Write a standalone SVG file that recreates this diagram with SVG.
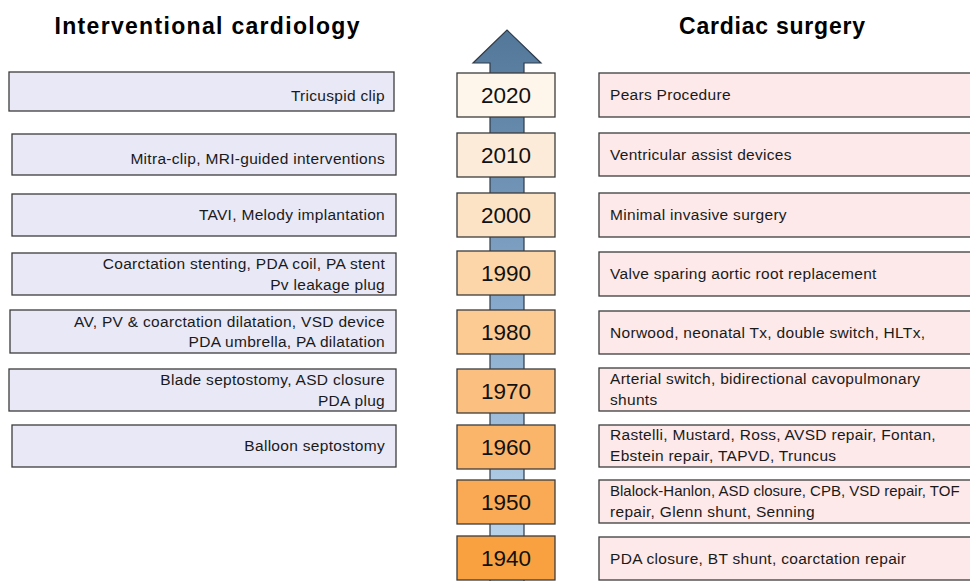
<svg xmlns="http://www.w3.org/2000/svg" width="970" height="581" viewBox="0 0 970 581">
<defs>
<linearGradient id="shaft" gradientUnits="userSpaceOnUse" x1="0" y1="30" x2="0" y2="581">
<stop offset="0" stop-color="#527799"/>
<stop offset="0.5" stop-color="#87a9cb"/>
<stop offset="1" stop-color="#c2dbf0"/>
</linearGradient>
<style>
.t{font-family:"Liberation Sans",Arial,sans-serif;font-size:15.5px;letter-spacing:0.3px;fill:#1a1a1a}
.n{font-size:15px;letter-spacing:0}
.r{text-anchor:end}
.h{font-family:"Liberation Sans",Arial,sans-serif;font-size:23px;font-weight:bold;fill:#000;text-anchor:middle}
.y{font-family:"Liberation Sans",Arial,sans-serif;font-size:22.5px;fill:#111;text-anchor:middle}
.lb{fill:#e8e8f7;stroke:#3c3c3c;stroke-width:1.3}
.rb{fill:#fde9e9;stroke:#3c3c3c;stroke-width:1.3}
.yb{stroke:#3c3c3c;stroke-width:1.3}
</style>
</defs>
<rect width="970" height="581" fill="#fff"/>
<text class="h" x="207" y="34" textLength="305">Interventional cardiology</text>
<text class="h" x="772" y="34" textLength="186">Cardiac surgery</text>
<g id="connectors">
<path d="M490 590 L490 63 L473 63 L507 30 L541 63 L524 63 L524 590 Z" fill="url(#shaft)" stroke="#2f3a48" stroke-width="1.2"/>
</g>
<g id="y2020"><rect class="yb" x="457" y="73" width="98" height="44" fill="#fef5eb"/><text class="y" x="506" y="103">2020</text></g>
<g id="y2010"><rect class="yb" x="457" y="133" width="98" height="44" fill="#fdebd9"/><text class="y" x="506" y="163">2010</text></g>
<g id="y2000"><rect class="yb" x="457" y="193" width="98" height="44" fill="#fde3c6"/><text class="y" x="506" y="223">2000</text></g>
<g id="y1990"><rect class="yb" x="457" y="251" width="98" height="44" fill="#fcd6a9"/><text class="y" x="506" y="281">1990</text></g>
<g id="y1980"><rect class="yb" x="457" y="310" width="98" height="44" fill="#fccb94"/><text class="y" x="506" y="340">1980</text></g>
<g id="y1970"><rect class="yb" x="457" y="369" width="98" height="44" fill="#fbbf7f"/><text class="y" x="506" y="399">1970</text></g>
<g id="y1960"><rect class="yb" x="457" y="425" width="98" height="44" fill="#fbb56b"/><text class="y" x="506" y="455">1960</text></g>
<g id="y1950"><rect class="yb" x="457" y="480" width="98" height="44" fill="#faaa55"/><text class="y" x="506" y="510">1950</text></g>
<g id="y1940"><rect class="yb" x="457" y="536" width="98" height="44" fill="#f9a140"/><text class="y" x="506" y="566">1940</text></g>

<g id="ic2020"><rect class="lb" x="9" y="72" width="385" height="39"/><text class="t r" x="385" y="101">Tricuspid clip</text></g>
<g id="ic2010"><rect class="lb" x="12" y="134" width="384" height="41"/><text class="t r" x="385" y="164">Mitra-clip, MRI-guided interventions</text></g>
<g id="ic2000"><rect class="lb" x="12" y="194" width="384" height="42"/><text class="t r" x="385" y="220">TAVI, Melody implantation</text></g>
<g id="ic1990"><rect class="lb" x="12" y="253" width="384" height="42"/><text class="t r" x="385" y="269">Coarctation stenting, PDA coil, PA stent</text><text class="t r" x="385" y="290">Pv leakage plug</text></g>
<g id="ic1980"><rect class="lb" x="10" y="310" width="386" height="43"/><text class="t r" x="385" y="327">AV, PV &amp; coarctation dilatation, VSD device</text><text class="t r" x="385" y="347">PDA umbrella, PA dilatation</text></g>
<g id="ic1970"><rect class="lb" x="9" y="369" width="387" height="42"/><text class="t r" x="385" y="385">Blade septostomy, ASD closure</text><text class="t r" x="385" y="406">PDA plug</text></g>
<g id="ic1960"><rect class="lb" x="12" y="425" width="384" height="42"/><text class="t r" x="385" y="451">Balloon septostomy</text></g>

<g id="cs2020"><rect class="rb" x="599" y="73" width="380" height="44"/><text class="t" x="610" y="100">Pears Procedure</text></g>
<g id="cs2010"><rect class="rb" x="599" y="133" width="380" height="43"/><text class="t" x="610" y="160">Ventricular assist devices</text></g>
<g id="cs2000"><rect class="rb" x="599" y="193" width="380" height="44"/><text class="t" x="610" y="220">Minimal invasive surgery</text></g>
<g id="cs1990"><rect class="rb" x="599" y="252" width="380" height="44"/><text class="t" x="610" y="279">Valve sparing aortic root replacement</text></g>
<g id="cs1980"><rect class="rb" x="599" y="311" width="380" height="43"/><text class="t" x="610" y="338">Norwood, neonatal Tx, double switch, HLTx,</text></g>
<g id="cs1970"><rect class="rb" x="599" y="368" width="380" height="43"/><text class="t" x="610" y="384">Arterial switch, bidirectional cavopulmonary</text><text class="t" x="610" y="405">shunts</text></g>
<g id="cs1960"><rect class="rb" x="599" y="425" width="380" height="42"/><text class="t" x="610" y="440">Rastelli, Mustard, Ross, AVSD repair, Fontan,</text><text class="t" x="610" y="461">Ebstein repair, TAPVD, Truncus</text></g>
<g id="cs1950"><rect class="rb" x="599" y="480" width="380" height="43"/><text class="t n" x="610" y="496">Blalock-Hanlon, ASD closure, CPB, VSD repair, TOF</text><text class="t" x="610" y="517">repair, Glenn shunt, Senning</text></g>
<g id="cs1940"><rect class="rb" x="599" y="537" width="380" height="43"/><text class="t" x="610" y="564">PDA closure, BT shunt, coarctation repair</text></g>
</svg>
